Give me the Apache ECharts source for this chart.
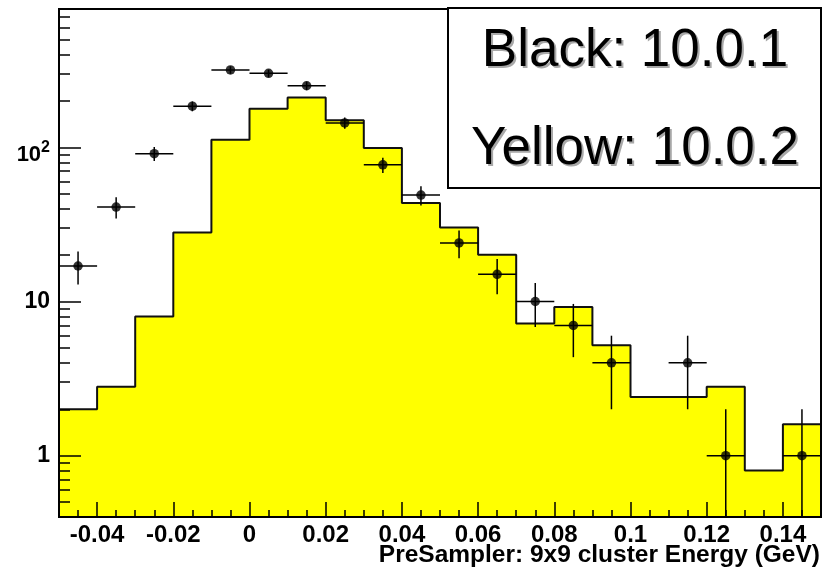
<!DOCTYPE html>
<html>
<head>
<meta charset="utf-8">
<title>PreSampler 9x9 cluster energy</title>
<script src="https://cdn.jsdelivr.net/npm/echarts@6.0.0/dist/echarts.min.js"></script>
<style>
  html, body { margin: 0; padding: 0; background: #fff; }
  #main { width: 822px; height: 573px; }
</style>
</head>
<body>
<div id="main"></div>
<script>
// 20 bins of 0.01 GeV, lower edges
const binLow = [-0.05, -0.04, -0.03, -0.02, -0.01, 0, 0.01, 0.02, 0.03, 0.04,
                0.05, 0.06, 0.07, 0.08, 0.09, 0.1, 0.11, 0.12, 0.13, 0.14];
const binWidth = 0.01;

// yellow histogram (10.0.2)
const yellowCounts = [2.0, 2.8, 8.0, 28, 112, 178, 211, 150, 99, 43.6,
                      30.2, 20.1, 7.2, 9.2, 5.2, 2.4, 2.4, 2.8, 0.8, 1.6];

// black points (10.0.1), 0 = empty bin
const blackCounts = [17, 41, 91, 185, 318, 302, 251, 144, 77, 49,
                     24, 15, 10, 7, 4, 0, 4, 1, 0, 1];

const xMajorTicks = [-0.04, -0.02, 0, 0.02, 0.04, 0.06, 0.08, 0.1, 0.12, 0.14];
const yMajorTicks = [1, 10, 100];
const yMinorTicks = [0.5, 0.6, 0.7, 0.8, 0.9, 2, 3, 4, 5, 6, 7, 8, 9,
                     20, 30, 40, 50, 60, 70, 80, 90, 200, 300, 400, 500, 600, 700];
const yRange = [0.4, 790];

const FONT = '"Liberation Sans", Arial, Helvetica, sans-serif';
const lg = (v) => Math.log10(v);

const xMinorTicks = [];
for (let i = 0; i <= 40; i++) xMinorTicks.push(+(-0.05 + i * 0.005).toFixed(3));

// step outline: one point per lower edge + closing point at the last upper edge
const yellowSteps = binLow.map((x, i) => [x, lg(yellowCounts[i])]);
yellowSteps.push([binLow[binLow.length - 1] + binWidth, lg(yellowCounts[yellowCounts.length - 1])]);

const blackPoints = [];
binLow.forEach((x, i) => {
  const n = blackCounts[i];
  if (n > 0) blackPoints.push([+(x + binWidth / 2).toFixed(3), lg(n), n]);
});

const chart = echarts.init(document.getElementById('main'));

const tickLine = { color: '#000', width: 1.5 };

const option = {
  animation: false,
  backgroundColor: '#fff',
  grid: {
    left: 59, right: 1, top: 9, bottom: 56,
    show: true, borderColor: '#000', borderWidth: 2, z: 10
  },
  title: {
    text: 'PreSampler: 9x9 cluster Energy (GeV)',
    right: 2, top: 543, padding: 0,
    textStyle: { fontSize: 24.5, fontWeight: 'bold', color: '#000', fontFamily: FONT }
  },
  xAxis: [
    {
      type: 'value', min: -0.05, max: 0.15, position: 'bottom', z: 10,
      axisLine: { show: true, onZero: false, lineStyle: { color: '#000', width: 2 } },
      axisTick: { show: true, inside: true, length: 15, customValues: xMajorTicks, lineStyle: tickLine },
      axisLabel: {
        show: true, customValues: xMajorTicks, margin: 6,
        formatter: (v) => String(+v.toFixed(3)),
        color: '#000', fontSize: 24, fontWeight: 'bold', fontFamily: FONT
      },
      splitLine: { show: false }
    },
    {
      type: 'value', min: -0.05, max: 0.15, position: 'bottom', z: 10,
      axisLine: { show: false, onZero: false },
      axisTick: { show: true, inside: true, length: 7, customValues: xMinorTicks, lineStyle: tickLine },
      axisLabel: { show: false },
      splitLine: { show: false }
    }
  ],
  yAxis: [
    {
      type: 'value', min: lg(yRange[0]), max: lg(yRange[1]), position: 'left', z: 10,
      axisLine: { show: true, onZero: false, lineStyle: { color: '#000', width: 2 } },
      axisTick: { show: true, inside: true, length: 22, customValues: yMajorTicks.map(lg), lineStyle: tickLine },
      axisLabel: {
        show: true, customValues: yMajorTicks.map(lg), margin: 9,
        color: '#000', fontSize: 23, fontWeight: 'bold', fontFamily: FONT,
        formatter: (v) => {
          const e = Math.round(v);
          if (e === 0) return '1';
          if (e === 1) return '10';
          return '{b|10}{s|' + e + '}';
        },
        rich: {
          b: { fontSize: 22, fontWeight: 'bold', fontFamily: FONT, color: '#000', padding: [15, 0, 0, 0] },
          s: { fontSize: 16, fontWeight: 'bold', fontFamily: FONT, color: '#000' }
        }
      },
      splitLine: { show: false }
    },
    {
      type: 'value', min: lg(yRange[0]), max: lg(yRange[1]), position: 'left', z: 10,
      axisLine: { show: false, onZero: false },
      axisTick: { show: true, inside: true, length: 11, customValues: yMinorTicks.map(lg), lineStyle: tickLine },
      axisLabel: { show: false },
      splitLine: { show: false }
    }
  ],
  series: [
    {
      name: 'Yellow: 10.0.2',
      type: 'line',
      step: 'end',
      xAxisIndex: 0, yAxisIndex: 0,
      data: yellowSteps,
      symbol: 'none',
      lineStyle: { color: '#111', width: 2 },
      areaStyle: { color: '#ffff00', opacity: 1, origin: 'start' },
      z: 2
    },
    {
      name: 'Black errors',
      type: 'custom',
      xAxisIndex: 0, yAxisIndex: 0,
      data: blackPoints,
      encode: { x: 0, y: 1 },
      clip: true,
      z: 3,
      renderItem: (params, api) => {
        const xc = api.value(0);
        const n = api.value(2);
        const e = Math.sqrt(n);
        const c = api.coord([xc, lg(n)]);
        const l = api.coord([xc - binWidth / 2, lg(n)]);
        const r = api.coord([xc + binWidth / 2, lg(n)]);
        const t = api.coord([xc, lg(n + e)]);
        const cs = params.coordSys;
        const b = n - e > 0 ? api.coord([xc, lg(n - e)])[1] : cs.y + cs.height;
        const st = { stroke: '#000', lineWidth: 1.5 };
        return {
          type: 'group',
          children: [
            { type: 'line', shape: { x1: l[0], y1: c[1], x2: r[0], y2: c[1] }, style: st },
            { type: 'line', shape: { x1: c[0], y1: t[1], x2: c[0], y2: b }, style: st }
          ]
        };
      }
    },
    {
      name: 'Black: 10.0.1',
      type: 'scatter',
      xAxisIndex: 0, yAxisIndex: 0,
      data: blackPoints.map((p) => [p[0], p[1]]),
      symbol: 'circle',
      symbolSize: 9.5,
      itemStyle: { color: '#000' },
      z: 4
    }
  ],
  graphic: [
    {
      type: 'rect', z: 100,
      shape: { x: 448, y: 8, width: 373, height: 180 },
      style: { fill: '#fff', stroke: '#000', lineWidth: 2 }
    },
    {
      type: 'text', z: 101, x: 637, y: 53,
      style: { text: 'Black: 10.0.1', fill: '#a8a8a8', font: '53px ' + FONT,
               align: 'center', verticalAlign: 'middle', textAlign: 'center', textVerticalAlign: 'middle' }
    },
    {
      type: 'text', z: 102, x: 635, y: 51,
      style: { text: 'Black: 10.0.1', fill: '#000', font: '53px ' + FONT,
               align: 'center', verticalAlign: 'middle', textAlign: 'center', textVerticalAlign: 'middle' }
    },
    {
      type: 'text', z: 101, x: 637, y: 151,
      style: { text: 'Yellow: 10.0.2', fill: '#a8a8a8', font: '53px ' + FONT,
               align: 'center', verticalAlign: 'middle', textAlign: 'center', textVerticalAlign: 'middle' }
    },
    {
      type: 'text', z: 102, x: 635, y: 149,
      style: { text: 'Yellow: 10.0.2', fill: '#000', font: '53px ' + FONT,
               align: 'center', verticalAlign: 'middle', textAlign: 'center', textVerticalAlign: 'middle' }
    }
  ]
};

chart.setOption(option);
</script>
</body>
</html>
